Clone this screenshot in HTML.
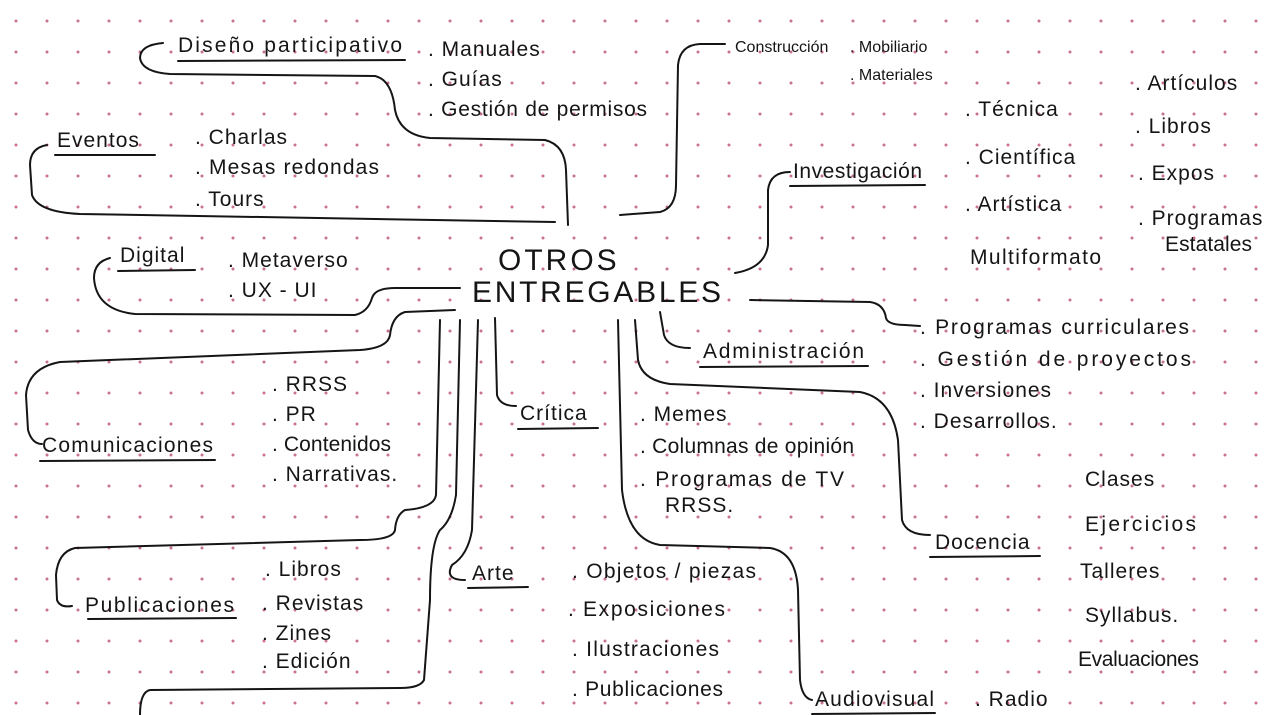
<!DOCTYPE html>
<html><head><meta charset="utf-8"><style>
html,body{margin:0;padding:0;background:#fff;}
svg{display:block}
text{font-family:"Liberation Sans",sans-serif;fill:#151515;font-size:21px;letter-spacing:1px}
.s{font-size:16px;letter-spacing:0}
.b{font-size:30px;letter-spacing:3px}
path,line{stroke:#151515;stroke-width:2;fill:none;stroke-linecap:round;stroke-linejoin:round}
</style></head><body>
<svg width="1271" height="715" viewBox="0 0 1271 715" xmlns="http://www.w3.org/2000/svg">
<defs><pattern id="d" x="0" y="0" width="31" height="31" patternUnits="userSpaceOnUse"><circle cx="16" cy="21" r="1.5" fill="#c8708f"/></pattern></defs>
<rect width="1271" height="715" fill="#fff"/>
<rect width="1271" height="715" fill="url(#d)"/>

<path d="M163,43 Q140,45 140,58 Q142,72 170,74 L375,76 Q392,80 395,110 Q400,135 430,138 L545,140 Q565,145 566,170 L568,225"/>
<path d="M47,145 Q30,148 30,165 L32,195 Q38,212 80,214 L555,222"/>
<path d="M620,215 L660,212 Q676,208 676,185 L678,65 Q680,45 700,44 L725,44"/>
<path d="M735,273 Q765,268 768,245 L768,190 Q770,172 790,172"/>
<path d="M110,258 Q94,262 94,278 Q96,310 135,314 L355,315 Q368,312 372,298 Q375,288 395,288 L460,288"/>
<path d="M750,300 L870,302 Q884,304 886,318 Q888,325 905,325 L920,326"/>
<path d="M660,312 L664,335 Q668,348 690,348"/>
<path d="M455,310 L405,312 Q392,316 390,335 Q388,348 360,350 L60,362 Q28,368 26,395 L28,430 Q32,444 42,444"/>
<path d="M440,320 L436,495 Q434,508 405,510 Q396,515 395,530 Q393,540 360,540 L75,548 Q58,552 56,575 L57,600 Q60,608 72,606"/>
<path d="M460,320 L456,495 Q452,520 440,530 Q430,545 430,600 L424,680 Q420,688 400,688 L150,690 Q140,692 140,715"/>
<path d="M478,320 L472,530 Q468,555 452,565 Q444,580 465,580"/>
<path d="M495,318 L497,395 Q500,406 516,406"/>
<path d="M618,320 L622,490 Q628,540 660,545 L770,548 Q796,552 798,590 L800,680 Q802,698 812,700"/>
<path d="M635,320 L638,360 Q642,380 670,384 L860,392 Q892,398 898,440 L902,520 Q906,535 930,535"/>

<text x="178" y="52" textLength="225">Diseño participativo</text><line x1="178" y1="61" x2="405" y2="60"/>
<text x="428" y="56">. Manuales</text>
<text x="428" y="86">. Guías</text>
<text x="428" y="116" textLength="220">. Gestión de permisos</text>
<text class="s" x="735" y="52">Construcción</text>
<text class="s" x="850" y="52">. Mobiliario</text>
<text class="s" x="850" y="80">. Materiales</text>
<text x="965" y="116">. Técnica</text>
<text x="965" y="164">. Científica</text>
<text x="965" y="211">. Artística</text>
<text x="970" y="264" textLength="132">Multiformato</text>
<text x="1135" y="90">. Artículos</text>
<text x="1135" y="133">. Libros</text>
<text x="1138" y="180">. Expos</text>
<text x="1138" y="225">. Programas</text>
<text x="1165" y="251" textLength="88">Estatales</text>
<text x="793" y="178" textLength="130">Investigación</text><line x1="790" y1="186" x2="925" y2="185"/>
<text x="57" y="147">Eventos</text><line x1="55" y1="155" x2="155" y2="155"/>
<text x="195" y="144">. Charlas</text>
<text x="195" y="174" textLength="185">. Mesas redondas</text>
<text x="195" y="206">. Tours</text>
<text x="120" y="262">Digital</text><line x1="118" y1="271" x2="195" y2="270"/>
<text x="228" y="267">. Metaverso</text>
<text x="228" y="297">. UX - UI</text>
<text class="b" x="498" y="270">OTROS</text>
<text class="b" x="472" y="302" textLength="252">ENTREGABLES</text>
<text x="920" y="334" textLength="270">. Programas curriculares</text>
<text x="920" y="366" textLength="272">. Gestión de proyectos</text>
<text x="920" y="397">. Inversiones</text>
<text x="920" y="428">. Desarrollos.</text>
<text x="703" y="358" textLength="162">Administración</text><line x1="700" y1="367" x2="868" y2="366"/>
<text x="272" y="391">. RRSS</text>
<text x="272" y="421">. PR</text>
<text x="272" y="451" textLength="120">. Contenidos</text>
<text x="272" y="481">. Narrativas.</text>
<text x="42" y="452" textLength="172">Comunicaciones</text><line x1="40" y1="461" x2="215" y2="460"/>
<text x="520" y="420">Crítica</text><line x1="518" y1="429" x2="598" y2="428"/>
<text x="640" y="421">. Memes</text>
<text x="640" y="453" textLength="215">. Columnas de opinión</text>
<text x="640" y="486" textLength="205">. Programas de TV</text>
<text x="665" y="512">RRSS.</text>
<text x="1085" y="486">Clases</text>
<text x="1085" y="531" textLength="112">Ejercicios</text>
<text x="1080" y="578">Talleres</text>
<text x="1085" y="622">Syllabus.</text>
<text x="1078" y="666" textLength="122">Evaluaciones</text>
<text x="935" y="549">Docencia</text><line x1="930" y1="557" x2="1040" y2="556"/>
<text x="85" y="612" textLength="150">Publicaciones</text><line x1="88" y1="619" x2="236" y2="618"/>
<text x="265" y="576">. Libros</text>
<text x="262" y="610">. Revistas</text>
<text x="262" y="640">. Zines</text>
<text x="262" y="668">. Edición</text>
<text x="472" y="580">Arte</text><line x1="468" y1="588" x2="528" y2="587"/>
<text x="572" y="578" textLength="185">. Objetos / piezas</text>
<text x="568" y="616" textLength="158">. Exposiciones</text>
<text x="572" y="656" textLength="148">. Ilustraciones</text>
<text x="572" y="696" textLength="152">. Publicaciones</text>
<text x="815" y="706" textLength="120">Audiovisual</text><line x1="812" y1="714" x2="935" y2="713"/>
<text x="975" y="706">. Radio</text>
</svg>
</body></html>
